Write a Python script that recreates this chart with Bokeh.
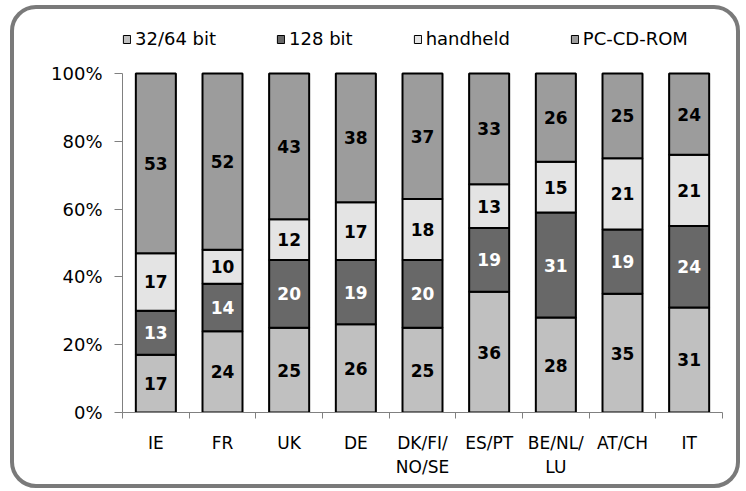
from bokeh.plotting import figure
from bokeh.models import (ColumnDataSource, Range1d, FixedTicker, Legend, LegendItem,
                          PrintfTickFormatter, InlineStyleSheet)
from bokeh.core.properties import value
from bokeh.embed import file_html
from bokeh.resources import INLINE

# ---- data ----
categories = ["IE", "FR", "UK", "DE", "DK/FI/\nNO/SE", "ES/PT", "BE/NL/\nLU", "AT/CH", "IT"]
series_names = ["32/64 bit", "128 bit", "handheld", "PC-CD-ROM"]
bit3264 = [17, 24, 25, 26, 25, 36, 28, 35, 31]
bit128 = [13, 14, 20, 19, 20, 19, 31, 19, 24]
handheld = [17, 10, 12, 17, 18, 13, 15, 21, 21]
pccdrom = [53, 52, 43, 38, 37, 33, 26, 25, 24]
y_ticks = [0, 20, 40, 60, 80, 100]

colors = ["#c0c0c0", "#686868", "#e4e4e4", "#9c9c9c"]
label_colors = ["black", "white", "black", "black"]
series = [bit3264, bit128, handheld, pccdrom]

FONT = "DejaVu Sans"

n = len(categories)
xs = [i + 0.5 for i in range(n)]
totals = [sum(s[i] for s in series) for i in range(n)]
pcts = [[s[i] / totals[i] * 100 for i in range(n)] for s in series]

# frame: x 122..722, y 25..412 ; 100% at y=73
y_top = 100 * 387 / 339

p = figure(width=746, height=491, output_backend="svg", toolbar_location=None,
           x_range=Range1d(0, n), y_range=Range1d(0, y_top),
           min_border_left=122, min_border_right=24, min_border_top=25,
           min_border_bottom=79)
p.outline_line_color = None
p.xgrid.visible = False
p.ygrid.visible = False
p.background_fill_color = "white"
p.border_fill_color = "white"

items = []
bottoms = [0.0] * n
for k, (name, col) in enumerate(zip(series_names, colors)):
    tops = [bottoms[i] + pcts[k][i] for i in range(n)]
    src = ColumnDataSource(dict(x=xs, bottom=bottoms, top=tops,
                                mid=[(bottoms[i] + tops[i]) / 2 for i in range(n)],
                                lab=[str(v) for v in series[k]]))
    # thin-outlined copy underneath, used for the legend swatch
    thin = p.vbar(x="x", bottom="bottom", top="top", width=0.6, source=src,
                  fill_color=col, line_color="black", line_width=1)
    items.append(LegendItem(label=name, renderers=[thin], index=0))
    p.vbar(x="x", bottom="bottom", top="top", width=0.6, source=src,
           fill_color=col, line_color="black", line_width=2)
    bottoms = tops
    p.text(x="x", y="mid", text="lab", source=src, text_align="center",
           text_baseline="middle", text_font=value(FONT), text_font_style="bold",
           text_font_size="17px", text_color=label_colors[k], level="overlay")

legend = Legend(items=items, orientation="horizontal", location=(0, 363),
                glyph_width=9, glyph_height=10, label_standoff=4, spacing=60,
                padding=0, margin=0, border_line_color=None,
                background_fill_alpha=0, label_text_font=FONT,
                label_text_font_size="18px", label_text_color="black")
p.add_layout(legend, "center")

# axes
ax_col = "#808080"
yax = p.yaxis[0]
yax.ticker = FixedTicker(ticks=y_ticks)
yax.bounds = (0, 100)
yax.formatter = PrintfTickFormatter(format="%d%%")
yax.axis_line_color = ax_col
yax.major_tick_line_color = ax_col
yax.major_tick_out = 8
yax.major_tick_in = 0
yax.minor_tick_line_color = None
yax.major_label_standoff = 12
yax.major_label_text_font = FONT
yax.major_label_text_font_size = "18px"
yax.major_label_text_color = "black"

xax = p.xaxis[0]
xax.ticker = FixedTicker(ticks=xs, minor_ticks=list(range(n + 1)))
xax.major_label_overrides = {x: c for x, c in zip(xs, categories)}
xax.axis_line_color = ax_col
xax.major_tick_line_color = None
xax.major_tick_out = 0
xax.major_tick_in = 0
xax.minor_tick_line_color = ax_col
xax.minor_tick_out = 6
xax.minor_tick_in = 0
xax.major_label_standoff = 14
xax.major_label_text_font = FONT
xax.major_label_text_font_size = "17px"
xax.major_label_text_color = "black"

# rounded outer frame (overlay drawn by CSS)
p.stylesheets = [InlineStyleSheet(css="""
:host { position: relative; }
:host::after {
  content: ""; position: absolute; left: 10px; top: 5px;
  width: 730px; height: 483px; box-sizing: border-box;
  border: 4.5px solid #7a7a7a; border-radius: 26px;
  pointer-events: none; z-index: 10;
}
""")]

open("out.html", "w").write(file_html(p, INLINE))
